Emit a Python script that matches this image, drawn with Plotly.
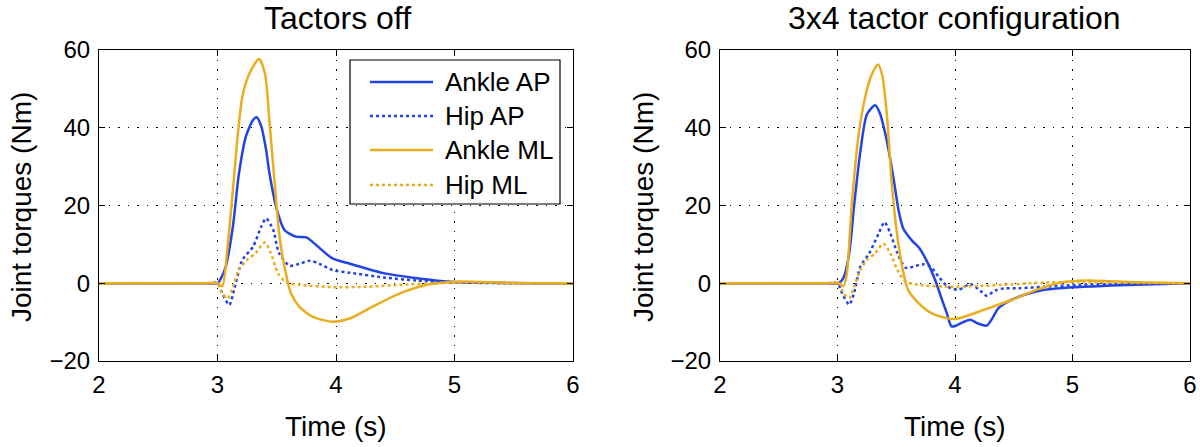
import plotly.graph_objects as go

# ---------------- data ----------------
# Left panel: Tactors off
off_ankle_ap_t = [2.0, 2.5, 2.9, 3.0, 3.03, 3.07, 3.13, 3.18, 3.24, 3.30, 3.33, 3.37, 3.41, 3.44, 3.50, 3.565, 3.66, 3.75, 3.83, 3.97, 4.12, 4.4, 4.68, 5.0, 5.3, 5.7, 6.0]
off_ankle_ap_v = [0, 0, 0, 0, 1.3, 4.3, 14.6, 28, 37.8, 42, 42.7, 40.3, 34.3, 28, 19, 13.7, 12, 11.8, 9.9, 6.4, 5, 2.6, 1.3, 0.3, 0.1, 0, 0]

off_hip_ap_t = [2.0, 2.5, 2.9, 3.0, 3.04, 3.10, 3.14, 3.21, 3.30, 3.37, 3.41, 3.47, 3.52, 3.61, 3.69, 3.78, 3.86, 3.97, 4.12, 4.4, 4.68, 5.0, 5.5, 6.0]
off_hip_ap_v = [0, 0, 0, 0, -2.6, -5.6, -1.7, 6, 9.4, 14.6, 16.7, 13.7, 7.7, 4.5, 5, 5.8, 5, 3.4, 2.7, 1.5, 0.7, 0.2, 0, 0]

off_ankle_ml_t = [2.0, 2.5, 2.9, 3.0, 3.04, 3.085, 3.13, 3.17, 3.21, 3.27, 3.35, 3.40, 3.44, 3.48, 3.52, 3.565, 3.62, 3.69, 3.80, 3.97, 4.12, 4.31, 4.54, 4.77, 5.0, 5.25, 5.6, 6.0]
off_ankle_ml_v = [0, 0, 0, 0, -0.8, 9.4, 24, 37.8, 48, 54, 57.7, 54, 41, 26.6, 12.9, 4.3, -2.6, -6, -8.6, -9.9, -9, -6, -2.6, -0.4, 0.4, 0.3, 0, 0]

off_hip_ml_t = [2.0, 2.5, 2.9, 3.0, 3.04, 3.085, 3.13, 3.18, 3.25, 3.32, 3.40, 3.45, 3.51, 3.58, 3.69, 3.97, 4.26, 4.54, 4.82, 5.1, 5.5, 6.0]
off_hip_ml_v = [0, 0, 0, 0, -2.6, -3.9, -0.9, 3.4, 6, 7.7, 10.5, 7.7, 2.6, 0.2, -0.4, -1, -0.9, -0.4, 0, 0.2, 0, 0]

# Right panel: 3x4 tactor configuration
cfg_ankle_ap_t = [2.0, 2.5, 2.9, 3.01, 3.05, 3.10, 3.14, 3.195, 3.25, 3.32, 3.36, 3.42, 3.48, 3.52, 3.56, 3.63, 3.70, 3.77, 3.83, 3.89, 3.93, 3.97, 4.01, 4.07, 4.13, 4.20, 4.27, 4.32, 4.37, 4.48, 4.62, 4.76, 5.0, 5.33, 5.61, 6.0]
cfg_ankle_ap_v = [0, 0, 0, 0, 1.3, 7.7, 19.6, 34, 43.4, 45.8, 43.8, 36.6, 26.4, 18.7, 14, 11.1, 8.9, 5.1, 0.9, -4.3, -7.7, -11.1, -10.9, -10, -9.4, -10.4, -10.9, -8.9, -6.4, -4.3, -2.7, -1.7, -1, -0.6, -0.3, 0]

cfg_hip_ap_t = [2.0, 2.5, 2.9, 3.0, 3.04, 3.10, 3.14, 3.195, 3.27, 3.35, 3.40, 3.45, 3.51, 3.58, 3.66, 3.72, 3.79, 3.86, 3.94, 4.03, 4.08, 4.13, 4.20, 4.27, 4.34, 4.42, 4.54, 4.76, 5.05, 5.33, 6.0]
cfg_hip_ap_v = [0, 0, 0, 0, -2.6, -5.5, -2.6, 4.3, 7.7, 12.8, 15.7, 12.8, 7.7, 4, 4.4, 4.9, 4.3, 1.7, -0.9, -1.7, -0.9, -0.2, -1.5, -3.2, -1.9, -1.3, -1.3, -0.9, -0.4, -0.2, 0]

cfg_ankle_ml_t = [2.0, 2.5, 2.9, 3.01, 3.05, 3.08, 3.12, 3.18, 3.24, 3.29, 3.345, 3.38, 3.42, 3.46, 3.51, 3.55, 3.60, 3.69, 3.80, 3.92, 4.0, 4.11, 4.25, 4.48, 4.71, 4.90, 5.13, 5.33, 5.61, 6.0]
cfg_ankle_ml_v = [0, 0, 0, 0, -0.8, 2.6, 19.6, 38.3, 48.5, 53.6, 56.3, 53.6, 43.4, 26.4, 11.9, 4.3, -1.7, -5.1, -7.7, -8.9, -9.2, -8.3, -6.8, -4.3, -1.5, 0.2, 0.7, 0.5, 0.2, 0]

cfg_hip_ml_t = [2.0, 2.5, 2.9, 3.02, 3.05, 3.10, 3.14, 3.195, 3.25, 3.32, 3.39, 3.45, 3.51, 3.58, 3.69, 3.92, 4.20, 4.48, 4.76, 5.05, 5.5, 6.0]
cfg_hip_ml_v = [0, 0, 0, 0, -2.6, -3.8, -0.9, 3.4, 6, 7.7, 10.2, 7.7, 3.4, 0.4, -0.4, -0.9, -0.7, -0.3, 0.2, 0.3, 0.1, 0]

series_names = ["Ankle AP", "Hip AP", "Ankle ML", "Hip ML"]
panel_titles = ["Tactors off", "3x4 tactor configuration"]
x_label = "Time (s)"
y_label = "Joint torques (Nm)"
x_ticks = [2, 3, 4, 5, 6]
y_ticks = [-20, 0, 20, 40, 60]

BLUE = "#2244E4"
ORANGE = "#E9AD1F"
FONT = "Liberation Sans, Arial, Helvetica, sans-serif"

fig = go.Figure()

panels = [
    ("x", "y", [(off_ankle_ap_t, off_ankle_ap_v), (off_hip_ap_t, off_hip_ap_v),
                (off_ankle_ml_t, off_ankle_ml_v), (off_hip_ml_t, off_hip_ml_v)]),
    ("x2", "y2", [(cfg_ankle_ap_t, cfg_ankle_ap_v), (cfg_hip_ap_t, cfg_hip_ap_v),
                  (cfg_ankle_ml_t, cfg_ankle_ml_v), (cfg_hip_ml_t, cfg_hip_ml_v)]),
]
styles = [(BLUE, "solid"), (BLUE, "dot"), (ORANGE, "solid"), (ORANGE, "dot")]

for xa, ya, data in panels:
    for (t, v), name, (col, dash) in zip(data, series_names, styles):
        fig.add_trace(go.Scatter(
            x=t, y=v, mode="lines", name=name, xaxis=xa, yaxis=ya,
            showlegend=False,
            line=dict(color=col, dash=dash, width=2.5, shape="spline", smoothing=0.7),
        ))

# The page body margin is removed (post_script below), so the figure fills the window.
W, H = 1200, 447
def fx(px):
    return px / W
def fy(py):
    return 1 - py / H

axis_common = dict(
    showline=True, linecolor="black", linewidth=1.2, mirror="ticks",
    ticks="inside", ticklen=6, tickcolor="black", tickwidth=1,
    showgrid=True, gridcolor="black", gridwidth=1.2, griddash="1.5px,8px",
    zeroline=False, automargin=False,
    tickfont=dict(family=FONT, size=24, color="black"),
)

fig.update_layout(
    template="none",
    width=W, height=H,
    margin=dict(l=0, r=0, t=0, b=0),
    paper_bgcolor="white", plot_bgcolor="white",
    showlegend=False,
    xaxis=dict(domain=[fx(99), fx(573)], range=[2, 6], tickvals=x_ticks, anchor="y", ticklabelstandoff=2, **axis_common),
    yaxis=dict(domain=[fy(361), fy(50)], range=[-20, 60], tickvals=y_ticks, anchor="x", ticklabelstandoff=3, **axis_common),
    xaxis2=dict(domain=[fx(720), fx(1190)], range=[2, 6], tickvals=x_ticks, anchor="y2", ticklabelstandoff=2, **axis_common),
    yaxis2=dict(domain=[fy(361), fy(50)], range=[-20, 60], tickvals=y_ticks, anchor="x2", ticklabelstandoff=3, **axis_common),
)

def ann(text, px, py, size, angle=0, xanchor="center"):
    return dict(text=text, x=fx(px), y=fy(py), xref="paper", yref="paper",
                xanchor=xanchor, yanchor="middle", showarrow=False,
                textangle=angle, font=dict(family=FONT, size=size, color="black"))

annotations = [
    ann(panel_titles[0], 337, 18, 32),
    ann(panel_titles[1], 955, 18, 32),
    ann(x_label, 336, 426, 28),
    ann(x_label, 955, 426, 28),
    ann(y_label, 21, 207, 28, -90),
    ann(y_label, 643, 207, 28, -90),
]

# Legend box (left panel), drawn with shapes + text so the line samples match the original length
shapes = [dict(type="rect", xref="paper", yref="paper",
               x0=fx(350), x1=fx(560), y0=fy(204), y1=fy(60),
               line=dict(color="black", width=1.2), fillcolor="white", layer="above")]
legend_rows = [82, 116, 150, 185]
for (col, dash), name, ry in zip(styles, series_names, legend_rows):
    shapes.append(dict(type="line", xref="paper", yref="paper",
                       x0=fx(370), x1=fx(433), y0=fy(ry), y1=fy(ry),
                       line=dict(color=col, dash=dash, width=2.5), layer="above"))
    annotations.append(ann(name, 443, ry, 26, xanchor="left"))

fig.update_layout(shapes=shapes, annotations=annotations)

fig.write_html("out.html",
               config={"displayModeBar": False},
               post_script="document.body.style.margin='0';document.body.style.overflow='hidden';")
